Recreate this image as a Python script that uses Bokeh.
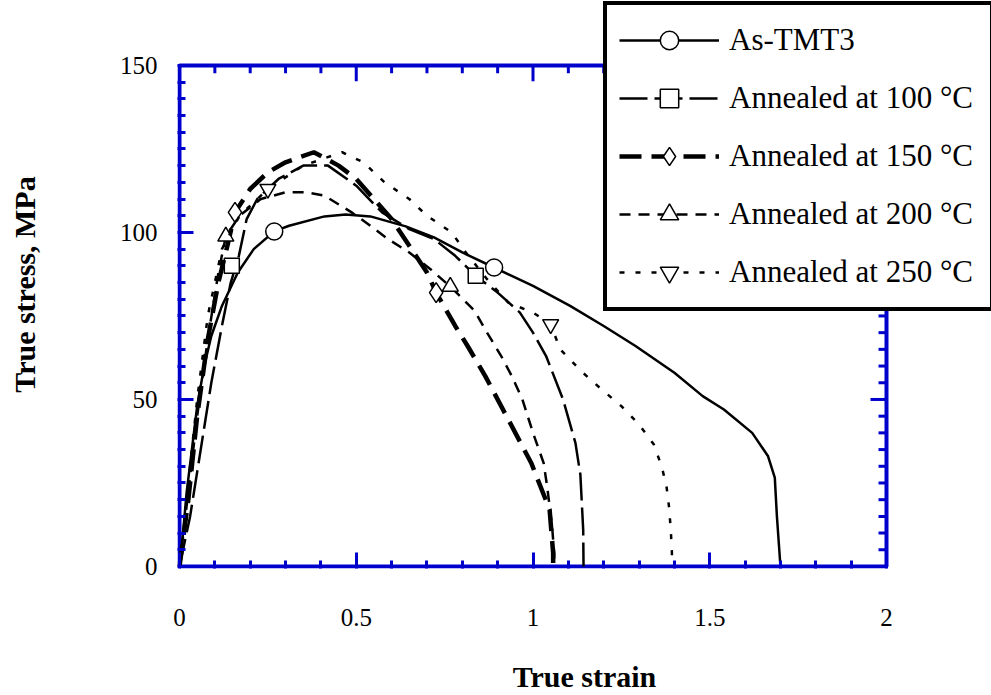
from bokeh.plotting import figure
from bokeh.models import (FixedTicker, NumeralTickFormatter, Legend,
                          LegendItem, Range1d)
from bokeh.embed import file_html
from bokeh.resources import INLINE

# ---------------- data ----------------
x_ticks = [0, 0.5, 1, 1.5, 2]
x_minor = [0.1, 0.2, 0.3, 0.4, 0.6, 0.7, 0.8, 0.9, 1.1, 1.2, 1.3, 1.4,
           1.6, 1.7, 1.8, 1.9]
y_ticks = [0, 50, 100, 150]
y_minor = [5, 10, 15, 20, 25, 30, 35, 40, 45, 55, 60, 65, 70, 75, 80, 85, 90,
           95, 105, 110, 115, 120, 125, 130, 135, 140, 145]

labels = ["As-TMT3", "Annealed at 100 °C", "Annealed at 150 °C",
          "Annealed at 200 °C", "Annealed at 250 °C"]

tmt3_x = [0, 0.01, 0.02, 0.035, 0.05, 0.07, 0.09, 0.12, 0.165, 0.21, 0.268,
          0.31, 0.41, 0.47, 0.54, 0.64, 0.72, 0.80, 0.89, 1.0, 1.105, 1.2,
          1.29, 1.40, 1.48, 1.54, 1.62, 1.665, 1.684, 1.69, 1.70]
tmt3_y = [0, 10, 22, 35, 48, 60, 69, 78, 88, 95, 100.3, 102, 104.8, 105.4,
          104.8, 101.8, 98.5, 94, 89.5, 84, 78, 72, 66, 58, 51, 47, 40, 33,
          26.6, 15, 0]

a100_x = [0, 0.03, 0.06, 0.09, 0.12, 0.145, 0.168, 0.19, 0.22, 0.28, 0.35,
          0.42, 0.5, 0.573, 0.65, 0.72, 0.78, 0.838, 0.9, 0.963, 1.0, 1.037,
          1.085, 1.12, 1.134, 1.142, 1.143]
a100_y = [0, 15, 35, 55, 72, 85, 93, 104, 110, 116, 120, 120, 114, 106, 101,
          98, 93, 87, 82, 76, 70, 63, 50, 37, 27.5, 11, 0]

a150_x = [0, 0.025, 0.05, 0.08, 0.11, 0.14, 0.157, 0.2, 0.25, 0.3, 0.38,
          0.45, 0.5, 0.55, 0.6, 0.65, 0.7, 0.726, 0.78, 0.815, 0.865, 0.93,
          0.995, 1.047, 1.057, 1.057]
a150_y = [0, 20, 45, 68, 85, 98, 106, 113, 118, 121, 124, 120, 116, 110, 104,
          96, 88, 82, 72, 66, 57, 44, 31, 17, 4, 0]

a200_x = [0, 0.02, 0.05, 0.08, 0.11, 0.131, 0.17, 0.23, 0.3, 0.36, 0.41,
          0.487, 0.535, 0.59, 0.65, 0.71, 0.766, 0.835, 0.87, 0.91, 0.94,
          0.97, 1.0, 1.03, 1.04, 1.054, 1.06, 1.06]
a200_y = [0, 18, 45, 68, 88, 98.8, 105, 110, 112, 112, 111, 106, 102.4, 98,
          94, 89, 83.8, 76.5, 70, 63, 57, 50, 40, 31, 24, 12, 4, 0]

a250_x = [0, 0.02, 0.05, 0.08, 0.12, 0.17, 0.25, 0.35, 0.46, 0.52, 0.58,
          0.65, 0.7, 0.77, 0.81, 0.87, 0.93, 1.0, 1.05, 1.077, 1.137, 1.19,
          1.25, 1.3, 1.342, 1.365, 1.378, 1.385, 1.39, 1.393, 1.393]
a250_y = [0, 20, 50, 75, 95, 105, 113, 120, 124, 121, 115, 110, 105, 100, 94,
          86, 79, 76, 72.5, 65, 58.4, 53.4, 48, 42.5, 36.5, 29.6, 23.7, 17.7,
          10.5, 4, 0]

# marker positions along each curve
tmt3_mx, tmt3_my = [0.268, 0.89], [100.3, 89.5]
a100_mx, a100_my = [0.148, 0.838], [90, 87]
a150_mx, a150_my = [0.157, 0.726], [106, 82]
a200_mx, a200_my = [0.131, 0.766], [98.8, 83.8]
a250_mx, a250_my = [0.25, 1.05], [113, 72.5]

# ---------------- layout constants (pixels) ----------------
W, H = 991, 695
AX_L, AX_R, AX_T, AX_B = 179, 886, 65, 567      # axis box in the reference
PAD = 2                                          # keep the box line unclipped
FR_L, FR_R, FR_T, FR_B = AX_L - PAD, W, 0, AX_B + PAD
PXX = (AX_R - AX_L) / (x_ticks[-1] - x_ticks[0])
PXY = (AX_B - AX_T) / (y_ticks[-1] - y_ticks[0])

x0 = x_ticks[0] - (AX_L - FR_L) / PXX
x1 = x_ticks[-1] + (FR_R - AX_R) / PXX
y0 = y_ticks[0] - (FR_B - AX_B) / PXY
y1 = y_ticks[-1] + (AX_T - FR_T) / PXY


def dx(px):
    return x_ticks[0] + (px - AX_L) / PXX


def dy(py):
    return y_ticks[0] + (AX_B - py) / PXY


BLUE = "#0000CC"
FONT = "Liberation Serif"
MAJ, MIN = 16, 8

p = figure(width=W, height=H, output_backend="svg", toolbar_location=None,
           x_range=Range1d(x0, x1), y_range=Range1d(y0, y1),
           min_border_left=FR_L, min_border_right=W - FR_R,
           min_border_top=FR_T, min_border_bottom=H - FR_B)
p.grid.visible = False
p.outline_line_color = None
p.background_fill_color = "white"
p.border_fill_color = "white"


def style_axis(ax, ticker):
    ax.ticker = ticker
    ax.axis_line_color = None
    ax.major_tick_line_color = BLUE
    ax.minor_tick_line_color = BLUE
    ax.major_tick_line_width = 3
    ax.minor_tick_line_width = 3
    ax.major_tick_in = MAJ
    ax.major_tick_out = 0
    ax.minor_tick_in = MIN
    ax.minor_tick_out = 0
    ax.major_label_text_font = FONT
    ax.major_label_text_font_size = "25px"
    ax.major_label_text_color = "black"
    ax.axis_label_text_font = FONT
    ax.axis_label_text_font_style = "bold"
    ax.axis_label_text_font_size = "30px"
    ax.axis_label_text_color = "black"


xa = p.xaxis[0]
style_axis(xa, FixedTicker(ticks=x_ticks, minor_ticks=x_minor))
xa.formatter = NumeralTickFormatter(format="0.[0]")
xa.major_label_standoff = 40
xa.axis_label = "True strain"
xa.axis_label_standoff = 31

ya = p.yaxis[0]
style_axis(ya, FixedTicker(ticks=y_ticks, minor_ticks=y_minor))
ya.major_label_standoff = 20
ya.axis_label = "True stress, MPa"
ya.axis_label_standoff = 76

# axis box
p.quad(left=x_ticks[0], right=x_ticks[-1], bottom=y_ticks[0],
       top=y_ticks[-1], fill_color=None, line_color=BLUE, line_width=4)

# inward ticks on the top and right edges
tx = x_ticks + x_minor
tl = [MAJ] * len(x_ticks) + [MIN] * len(x_minor)
p.segment(x0=tx, x1=tx, y0=[y_ticks[-1]] * len(tx),
          y1=[y_ticks[-1] - L / PXY for L in tl],
          line_color=BLUE, line_width=3)
ty = y_ticks + y_minor
tyl = [MAJ] * len(y_ticks) + [MIN] * len(y_minor)
p.segment(y0=ty, y1=ty, x0=[x_ticks[-1]] * len(ty),
          x1=[x_ticks[-1] - L / PXX for L in tyl],
          line_color=BLUE, line_width=3)

# legend drop shadow (reference: thick black edge under the legend box)
p.quad(left=dx(609), right=dx(W), bottom=dy(307), top=dy(296),
       fill_color="black", line_color=None)

# ---------------- curves ----------------
series = [
    (tmt3_x, tmt3_y, tmt3_mx, tmt3_my, "solid", 2.5, "circle", 17),
    (a100_x, a100_y, a100_mx, a100_my, "28 7", 2.5, "square", 15),
    (a150_x, a150_y, a150_mx, a150_my, "22 10", 4.5, "diamond", 20),
    (a200_x, a200_y, a200_mx, a200_my, "11 8", 2.5, "triangle", 16),
    (a250_x, a250_y, a250_mx, a250_my, "5 11", 2.5, "inverted_triangle", 16),
]

items = []
for lab, (xs, ys, mx, my, dash, lw, mk, ms) in zip(labels, series):
    lr = p.line(xs, ys, line_color="black", line_width=lw, line_dash=dash)
    sr = p.scatter(mx, my, marker=mk, size=ms, fill_color="white",
                   line_color="black", line_width=1.5)
    items.append(LegendItem(label=lab, renderers=[lr, sr]))

legend = Legend(items=items, location=(603 - FR_L, FR_B - 312))
legend.label_text_font = FONT
legend.label_text_font_size = "31px"
legend.label_text_color = "black"
legend.glyph_width = 100
legend.glyph_height = 46
legend.label_height = 46
legend.label_width = 249
legend.spacing = 12
legend.padding = 12
legend.label_standoff = 10
legend.border_line_color = "black"
legend.border_line_alpha = 1.0
legend.border_line_width = 4
legend.background_fill_color = "white"
legend.background_fill_alpha = 1.0
p.add_layout(legend, "center")

open("out.html", "w").write(file_html(p, INLINE))
